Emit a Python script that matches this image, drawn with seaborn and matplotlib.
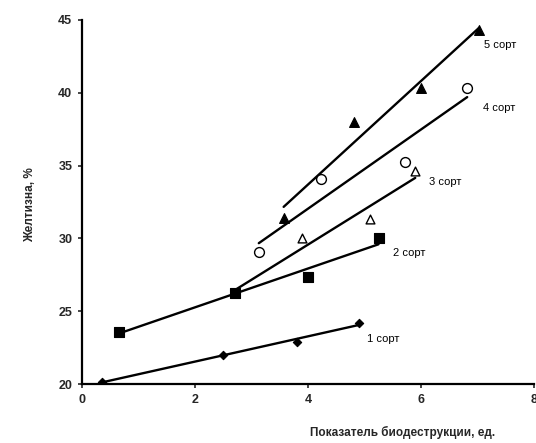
import matplotlib
matplotlib.use("Agg")
import matplotlib.pyplot as plt
import seaborn as sns
import pandas as pd

# ---- data ----
grades = ["1 сорт", "2 сорт", "3 сорт", "4 сорт", "5 сорт"]
x1 = [0.35, 2.5, 3.8, 4.9]
y1 = [20.15, 22.0, 22.9, 24.2]
x2 = [0.65, 2.7, 4.0, 5.25]
y2 = [23.6, 26.25, 27.35, 30.0]
x3 = [2.7, 3.9, 5.1, 5.9]
y3 = [26.25, 30.0, 31.3, 34.6]
x4 = [3.13, 4.23, 5.72, 6.82]
y4 = [29.1, 34.1, 35.25, 40.3]
x5 = [3.57, 4.81, 6.0, 7.03]
y5 = [31.4, 38.0, 40.3, 44.3]
x_ticks = [0, 2, 4, 6, 8]
y_ticks = [20, 25, 30, 35, 40, 45]
x_label = "Показатель биодеструкции, ед."
y_label = "Желтизна, %"

series = [(x1, y1), (x2, y2), (x3, y3), (x4, y4), (x5, y5)]
# markers: (marker, filled, size, zorder)
styles = [("D", True, 18, 5), ("s", True, 60, 6), ("^", False, 40, 4), ("o", False, 50, 5), ("^", True, 50, 5)]
# label positions (data coords)
label_pos = [(5.05, 23.1), (5.5, 29.0), (6.15, 33.9), (7.1, 38.95), (7.12, 43.3)]

sns.set_style("white")
plt.rcParams["font.family"] = ["Liberation Sans", "DejaVu Sans"]

fig = plt.figure(figsize=(5.36, 4.43), dpi=100)
ax = fig.add_axes([0.153, 0.133, 0.843, 0.822])

for (xs, ys), (mk, filled, sz, zo), name in zip(series, styles, grades):
    df = pd.DataFrame({"x": xs, "y": ys})
    sns.regplot(data=df, x="x", y="y", ax=ax, scatter=False, ci=None,
                truncate=True, line_kws=dict(color="black", lw=1.7, zorder=3))
    if filled:
        sns.scatterplot(data=df, x="x", y="y", ax=ax, marker=mk, s=sz,
                        color="black", edgecolor="black", linewidth=0.8, zorder=zo)
    else:
        sns.scatterplot(data=df, x="x", y="y", ax=ax, marker=mk, s=sz,
                        facecolor="white", edgecolor="black", linewidth=1.0, zorder=zo)

for (lx, ly), name in zip(label_pos, grades):
    ax.text(lx, ly, name, fontsize=8, ha="left", va="center", color="black")

ax.set_xlim(0, 8)
ax.set_ylim(20, 45)
ax.set_xticks(x_ticks)
ax.set_yticks(y_ticks)
ax.tick_params(axis="both", direction="out", length=3, width=1.2, labelsize=9,
               bottom=True, left=True, pad=4)
for lbl in ax.get_xticklabels() + ax.get_yticklabels():
    lbl.set_fontweight("bold")
ax.set_xlabel("")
ax.set_ylabel("")
sns.despine(ax=ax)
for sp in ["left", "bottom"]:
    ax.spines[sp].set_linewidth(1.6)
    ax.spines[sp].set_color("black")

fig.text(310 / 536, 1 - 436 / 443, x_label, fontsize=8.5, fontweight="bold",
         ha="left", va="baseline")
fig.text(30 / 536, 1 - 205 / 443, y_label, fontsize=8.5, fontweight="bold",
         rotation=90, ha="center", va="center")

fig.savefig("out.png", dpi=100)
